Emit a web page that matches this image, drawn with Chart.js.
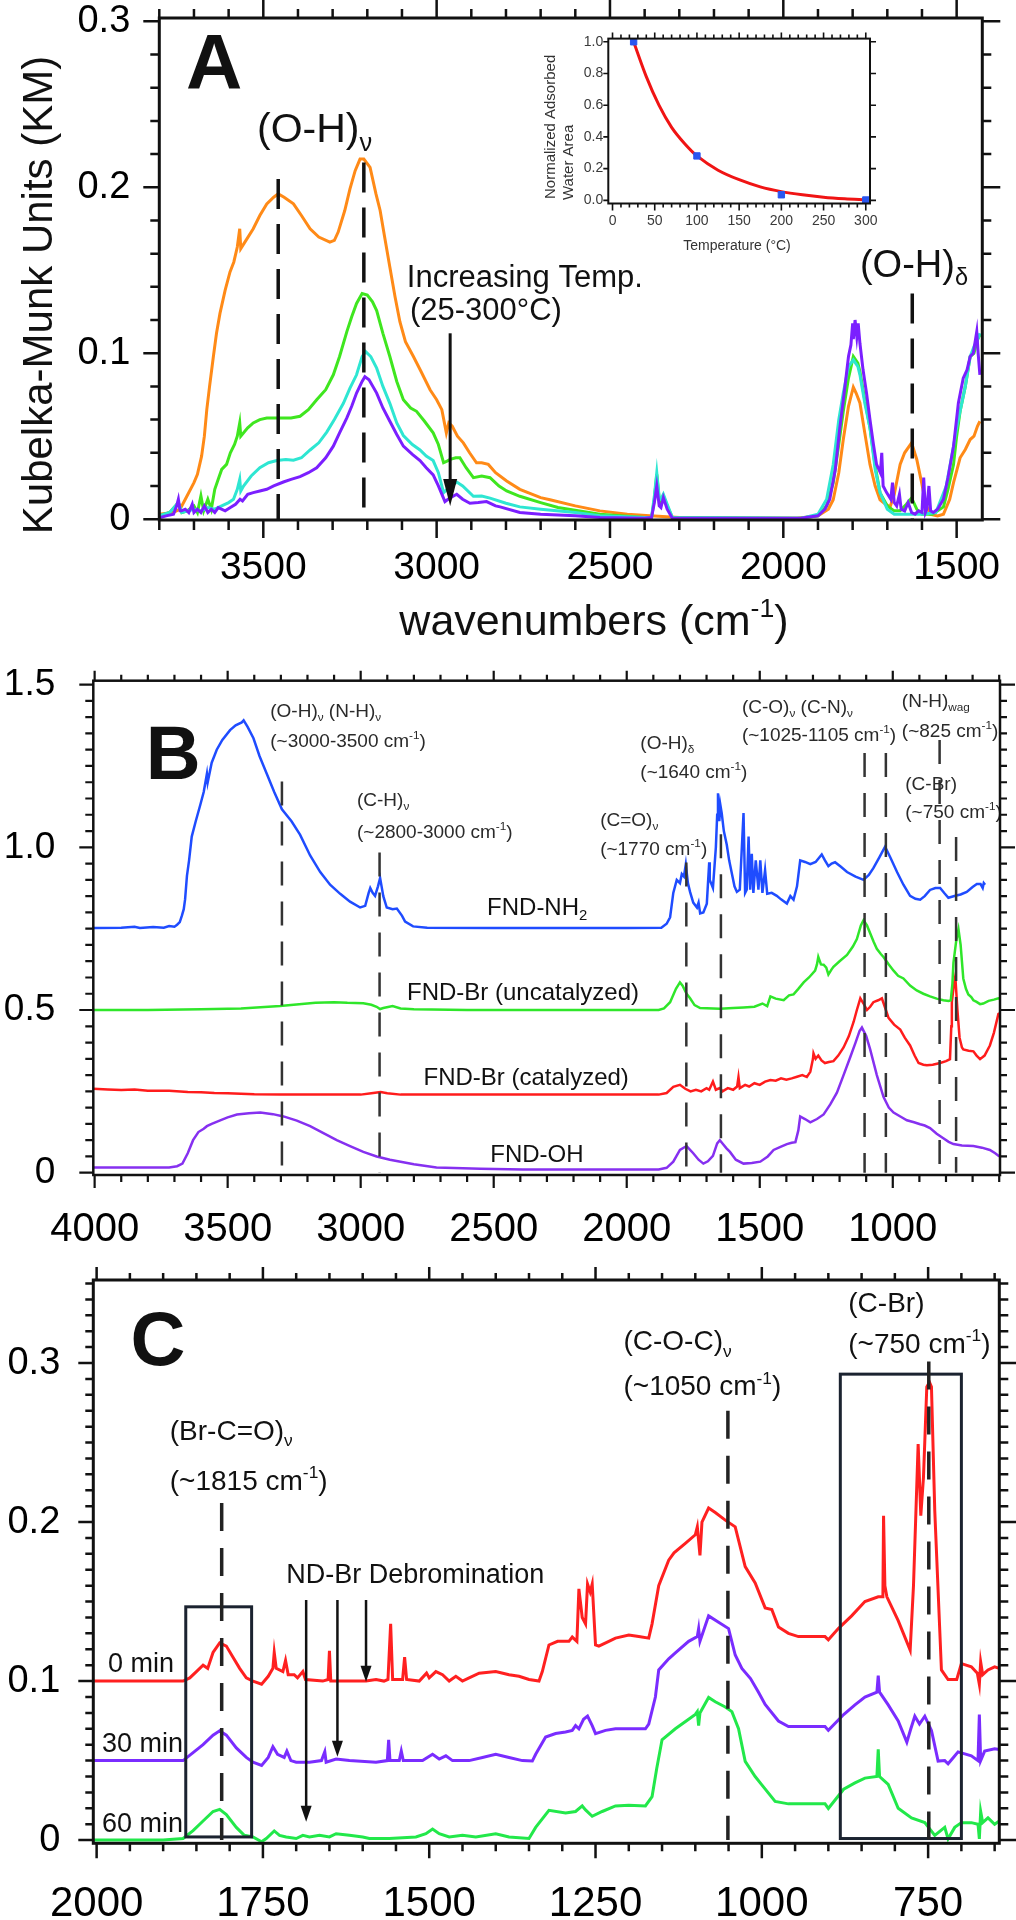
<!DOCTYPE html>
<html>
<head>
<meta charset="utf-8">
<script src="https://cdn.jsdelivr.net/npm/chart.js@4.4.1/dist/chart.umd.min.js"></script>
<style>
  html, body { margin: 0; padding: 0; background: #fff; }
  #page { position: relative; width: 1016px; height: 1920px; background: #fff; overflow: hidden; }
  canvas { position: absolute; }
</style>
</head>
<body>
<div id="page">
  <canvas id="panelA" width="1016" height="660" style="left:0;top:0"></canvas>
  <canvas id="panelB" width="1016" height="620" style="left:0;top:640px"></canvas>
  <canvas id="panelC" width="1016" height="680" style="left:0;top:1240px"></canvas>
  <canvas id="inset" width="380" height="250" style="left:520px;top:10px"></canvas>
</div>
<script>
// ---------- Panel A : DRIFTS, increasing temperature (25-300 °C) ----------
const aOrange = [[3800,0.003],[3760,0.004],[3740,0.006],[3725,0.012],[3700,0.022],[3690,0.027],[3678,0.038],[3670,0.05],[3663,0.066],[3655,0.08],[3644,0.098],[3635,0.112],[3625,0.124],[3610,0.138],[3596,0.149],[3585,0.155],[3575,0.164],[3568,0.175],[3565,0.163],[3550,0.168],[3529,0.175],[3510,0.183],[3490,0.19],[3470,0.194],[3457,0.196],[3440,0.194],[3413,0.19],[3390,0.183],[3365,0.175],[3340,0.17],[3308,0.167],[3295,0.168],[3284,0.173],[3265,0.186],[3250,0.199],[3235,0.21],[3221,0.217],[3210,0.217],[3192,0.212],[3175,0.196],[3163,0.186],[3150,0.17],[3135,0.152],[3120,0.134],[3106,0.119],[3090,0.107],[3067,0.098],[3045,0.089],[3019,0.078],[3000,0.072],[2985,0.066],[2972,0.052],[2965,0.058],[2955,0.056],[2940,0.05],[2923,0.046],[2905,0.04],[2885,0.034],[2870,0.034],[2851,0.033],[2830,0.028],[2798,0.023],[2760,0.018],[2700,0.013],[2673,0.0117],[2600,0.008],[2529,0.005],[2450,0.003],[2385,0.002],[2300,0.001],[2100,0.0005],[1960,0.0005],[1900,0.002],[1870,0.006],[1856,0.0117],[1840,0.028],[1827,0.048],[1812,0.068],[1798,0.0795],[1790,0.076],[1779,0.07],[1765,0.052],[1750,0.033],[1735,0.02],[1721,0.0117],[1705,0.009],[1692,0.0074],[1680,0.015],[1663,0.033],[1650,0.04],[1630,0.046],[1615,0.036],[1601,0.022],[1590,0.01],[1577,0.003],[1555,0.002],[1538,0.003],[1520,0.012],[1509,0.022],[1490,0.037],[1475,0.042],[1461,0.048],[1450,0.05],[1440,0.056],[1433,0.059]];
const aGreen = [[3800,0.002],[3770,0.004],[3745,0.01],[3735,0.004],[3720,0.005],[3700,0.008],[3690,0.004],[3680,0.014],[3672,0.005],[3660,0.012],[3650,0.006],[3640,0.018],[3630,0.024],[3620,0.03],[3606,0.033],[3595,0.04],[3583,0.045],[3575,0.05],[3568,0.058],[3565,0.05],[3545,0.055],[3529,0.058],[3510,0.06],[3490,0.061],[3460,0.061],[3420,0.061],[3394,0.062],[3370,0.066],[3346,0.072],[3320,0.078],[3298,0.087],[3280,0.098],[3259,0.113],[3245,0.122],[3231,0.13],[3215,0.136],[3200,0.135],[3185,0.131],[3173,0.1257],[3155,0.112],[3135,0.098],[3115,0.083],[3096,0.072],[3075,0.067],[3058,0.065],[3035,0.059],[3010,0.052],[2995,0.045],[2980,0.034],[2970,0.035],[2961,0.036],[2945,0.037],[2933,0.037],[2915,0.031],[2894,0.025],[2870,0.026],[2846,0.025],[2820,0.02],[2798,0.017],[2760,0.0138],[2700,0.01],[2650,0.007],[2529,0.003],[2400,0.001],[2380,0.001],[2372,0.012],[2365,0.027],[2358,0.012],[2353,0.01],[2346,0.014],[2335,0.008],[2320,0.001],[1950,0.0005],[1900,0.002],[1875,0.008],[1856,0.022],[1840,0.045],[1827,0.065],[1812,0.085],[1798,0.098],[1785,0.094],[1779,0.089],[1765,0.072],[1750,0.055],[1735,0.032],[1721,0.016],[1700,0.008],[1680,0.005],[1663,0.005],[1645,0.009],[1630,0.0128],[1615,0.006],[1600,0.003],[1570,0.003],[1538,0.0074],[1525,0.018],[1509,0.033],[1500,0.05],[1490,0.065],[1475,0.08],[1461,0.098],[1450,0.1],[1440,0.108],[1433,0.111]];
const aCyan = [[3800,0.002],[3770,0.004],[3745,0.01],[3735,0.004],[3700,0.006],[3680,0.005],[3660,0.007],[3640,0.006],[3620,0.008],[3600,0.01],[3586,0.012],[3575,0.018],[3568,0.024],[3565,0.017],[3557,0.02],[3535,0.026],[3510,0.031],[3485,0.034],[3461,0.0353],[3435,0.036],[3413,0.0355],[3390,0.037],[3365,0.0417],[3340,0.046],[3317,0.0525],[3295,0.06],[3269,0.0698],[3250,0.079],[3231,0.087],[3215,0.098],[3205,0.101],[3190,0.098],[3173,0.091],[3155,0.08],[3135,0.0698],[3115,0.058],[3096,0.0504],[3070,0.045],[3048,0.0417],[3030,0.038],[3010,0.0353],[2995,0.028],[2980,0.016],[2970,0.018],[2942,0.0224],[2925,0.02],[2894,0.0138],[2870,0.014],[2846,0.0127],[2800,0.0096],[2760,0.0074],[2700,0.006],[2600,0.004],[2529,0.002],[2400,0.001],[2380,0.001],[2372,0.014],[2365,0.028],[2358,0.013],[2353,0.012],[2346,0.015],[2335,0.009],[2320,0.001],[1950,0.0005],[1900,0.003],[1875,0.012],[1856,0.033],[1840,0.06],[1827,0.076],[1812,0.092],[1798,0.096],[1785,0.092],[1779,0.087],[1765,0.07],[1750,0.055],[1735,0.03],[1721,0.016],[1700,0.006],[1680,0.003],[1640,0.003],[1600,0.003],[1560,0.004],[1530,0.02],[1509,0.044],[1500,0.055],[1490,0.065],[1475,0.08],[1461,0.098],[1450,0.104],[1438,0.109],[1433,0.112]];
const aPurple = [[3800,0.0008],[3780,0.002],[3759,0.003],[3750,0.008],[3745,0.012],[3740,0.005],[3736,0.005],[3725,0.006],[3715,0.004],[3705,0.009],[3700,0.004],[3690,0.006],[3680,0.004],[3670,0.008],[3660,0.004],[3650,0.006],[3640,0.004],[3630,0.007],[3610,0.005],[3595,0.007],[3580,0.009],[3567,0.012],[3560,0.011],[3545,0.015],[3529,0.016],[3510,0.017],[3490,0.018],[3470,0.02],[3442,0.0224],[3420,0.024],[3394,0.0256],[3370,0.028],[3346,0.031],[3320,0.037],[3298,0.044],[3280,0.052],[3259,0.061],[3245,0.068],[3231,0.076],[3215,0.083],[3207,0.0858],[3195,0.084],[3173,0.076],[3155,0.067],[3135,0.059],[3115,0.051],[3096,0.044],[3070,0.039],[3048,0.0353],[3030,0.031],[3010,0.0267],[2995,0.02],[2976,0.0106],[2960,0.013],[2942,0.015],[2925,0.012],[2904,0.0096],[2880,0.01],[2856,0.0106],[2830,0.008],[2817,0.0074],[2760,0.004],[2700,0.003],[2600,0.002],[2529,0.001],[2400,0.0005],[2380,0.001],[2372,0.01],[2365,0.02],[2358,0.008],[2353,0.007],[2346,0.013],[2335,0.006],[2320,0.0005],[1950,0.0005],[1900,0.002],[1880,0.006],[1866,0.012],[1850,0.03],[1837,0.055],[1825,0.075],[1812,0.098],[1805,0.105],[1800,0.118],[1798,0.1085],[1793,0.12],[1788,0.11],[1784,0.118],[1779,0.106],[1770,0.09],[1760,0.076],[1750,0.06],[1740,0.045],[1731,0.033],[1720,0.028],[1716,0.04],[1712,0.02],[1702,0.016],[1690,0.012],[1685,0.022],[1680,0.01],[1673,0.008],[1665,0.015],[1660,0.006],[1650,0.005],[1640,0.01],[1630,0.004],[1620,0.003],[1610,0.005],[1600,0.004],[1595,0.025],[1590,0.004],[1586,0.006],[1580,0.02],[1575,0.005],[1567,0.004],[1555,0.006],[1538,0.012],[1525,0.025],[1509,0.044],[1495,0.07],[1481,0.085],[1470,0.09],[1461,0.098],[1452,0.1],[1442,0.113],[1438,0.1],[1433,0.087]];
const aXTicks = [3500, 3000, 2500, 2000, 1500];
const aYTicks = [0, 0.1, 0.2, 0.3];

// inset: normalized adsorbed water area vs temperature
const insetTemp = [25, 100, 200, 300];
const insetArea = [1.0, 0.28, 0.035, 0.002];
const insetFitT = [25, 40, 55, 70, 85, 100, 125, 150, 175, 200, 225, 250, 275, 300];
const insetFitY = [1.0, 0.78, 0.6, 0.46, 0.36, 0.28, 0.19, 0.13, 0.085, 0.055, 0.035, 0.02, 0.01, 0.003];
const insetXTicks = [0, 50, 100, 150, 200, 250, 300];
const insetYTicks = [0, 0.2, 0.4, 0.6, 0.8, 1.0];

// ---------- Panel B : functionalised nanodiamond spectra ----------
const bNH2 = [[4005,0.752],[3900,0.753],[3850,0.756],[3830,0.752],[3780,0.755],[3740,0.753],[3720,0.758],[3700,0.756],[3690,0.762],[3680,0.77],[3672,0.79],[3665,0.81],[3660,0.84],[3653,0.912],[3645,0.96],[3635,1.033],[3620,1.08],[3603,1.13],[3590,1.17],[3578,1.226],[3575,1.2],[3560,1.26],[3541,1.3],[3520,1.33],[3491,1.36],[3470,1.375],[3447,1.384],[3440,1.39],[3425,1.37],[3403,1.335],[3380,1.28],[3353,1.226],[3325,1.17],[3296,1.117],[3260,1.08],[3228,1.039],[3190,0.975],[3152,0.924],[3115,0.885],[3077,0.857],[3040,0.833],[3002,0.815],[2983,0.82],[2970,0.86],[2964,0.875],[2955,0.86],[2946,0.851],[2935,0.88],[2927,0.906],[2915,0.85],[2902,0.815],[2880,0.81],[2864,0.812],[2845,0.79],[2833,0.772],[2803,0.757],[2750,0.753],[2500,0.752],[2000,0.752],[1870,0.753],[1850,0.765],[1837,0.785],[1825,0.86],[1812,0.9],[1800,0.89],[1793,0.918],[1785,0.91],[1778,0.948],[1770,0.89],[1762,0.863],[1750,0.83],[1736,0.815],[1730,0.83],[1724,0.797],[1712,0.8],[1699,0.827],[1690,0.954],[1688,0.9],[1676,0.875],[1665,1.0],[1660,1.1],[1657,1.166],[1652,1.08],[1648,1.13],[1643,1.105],[1635,1.05],[1624,1.008],[1615,0.96],[1606,0.924],[1595,0.88],[1586,0.863],[1575,0.87],[1561,1.105],[1555,0.86],[1549,0.87],[1542,1.033],[1536,0.87],[1530,0.98],[1524,0.86],[1515,0.96],[1505,0.87],[1498,0.96],[1490,0.86],[1480,0.93],[1472,0.857],[1455,0.86],[1436,0.851],[1420,0.84],[1398,0.827],[1385,0.85],[1373,0.839],[1360,0.88],[1348,0.96],[1330,0.955],[1310,0.948],[1290,0.955],[1267,0.978],[1255,0.96],[1242,0.942],[1230,0.95],[1217,0.954],[1195,0.94],[1172,0.924],[1140,0.91],[1110,0.9],[1090,0.915],[1073,0.936],[1050,0.97],[1029,1.002],[1010,0.97],[984,0.924],[960,0.885],[935,0.851],[915,0.842],[897,0.839],[880,0.85],[860,0.869],[840,0.875],[822,0.875],[805,0.858],[791,0.845],[778,0.848],[765,0.851],[745,0.855],[722,0.863],[700,0.878],[684,0.887],[670,0.887],[662,0.875],[658,0.89],[653,0.885]];
const bBrUncat = [[4005,0.5],[3800,0.5],[3600,0.502],[3450,0.505],[3303,0.512],[3170,0.522],[3100,0.524],[3050,0.522],[2990,0.521],[2960,0.516],[2940,0.51],[2927,0.503],[2915,0.506],[2880,0.512],[2850,0.505],[2800,0.502],[2600,0.5],[1880,0.5],[1860,0.505],[1837,0.524],[1815,0.565],[1800,0.585],[1790,0.575],[1775,0.55],[1762,0.536],[1745,0.515],[1724,0.506],[1650,0.504],[1600,0.506],[1561,0.508],[1520,0.51],[1490,0.52],[1472,0.512],[1460,0.542],[1440,0.535],[1410,0.53],[1390,0.545],[1373,0.548],[1355,0.565],[1335,0.585],[1315,0.6],[1292,0.621],[1285,0.64],[1280,0.663],[1270,0.64],[1260,0.639],[1250,0.63],[1242,0.609],[1230,0.625],[1223,0.633],[1200,0.65],[1172,0.669],[1150,0.695],[1135,0.718],[1120,0.76],[1110,0.776],[1097,0.76],[1085,0.736],[1072,0.71],[1060,0.688],[1045,0.672],[1035,0.663],[1015,0.64],[997,0.621],[980,0.605],[960,0.597],[935,0.575],[910,0.56],[885,0.55],[860,0.542],[835,0.535],[810,0.53],[790,0.528],[782,0.53],[776,0.58],[772,0.645],[762,0.71],[753,0.748],[745,0.7],[735,0.597],[725,0.565],[716,0.548],[705,0.54],[697,0.53],[685,0.525],[672,0.518],[660,0.52],[640,0.528],[620,0.532],[603,0.536],[598,0.535]];
const bBrCat = [[4005,0.258],[3950,0.256],[3900,0.254],[3850,0.256],[3800,0.252],[3720,0.252],[3650,0.248],[3600,0.247],[3550,0.245],[3500,0.244],[3450,0.243],[3400,0.241],[3300,0.24],[3000,0.24],[2960,0.244],[2925,0.248],[2900,0.244],[2850,0.24],[2500,0.24],[1880,0.24],[1850,0.245],[1825,0.264],[1800,0.27],[1780,0.258],[1760,0.25],[1740,0.255],[1720,0.25],[1700,0.26],[1690,0.255],[1676,0.28],[1665,0.255],[1650,0.26],[1640,0.25],[1620,0.26],[1600,0.255],[1585,0.265],[1580,0.294],[1575,0.26],[1555,0.27],[1540,0.265],[1520,0.275],[1500,0.27],[1480,0.28],[1460,0.285],[1440,0.283],[1420,0.29],[1400,0.286],[1380,0.29],[1360,0.295],[1340,0.3],[1323,0.294],[1310,0.31],[1300,0.35],[1298,0.367],[1290,0.35],[1280,0.36],[1268,0.345],[1255,0.337],[1240,0.34],[1223,0.343],[1205,0.36],[1185,0.385],[1165,0.42],[1147,0.464],[1135,0.5],[1122,0.536],[1110,0.52],[1097,0.5],[1085,0.51],[1073,0.524],[1055,0.53],[1041,0.536],[1030,0.51],[1016,0.476],[995,0.455],[972,0.44],[955,0.415],[935,0.391],[918,0.36],[903,0.337],[885,0.332],[872,0.33],[850,0.332],[822,0.337],[800,0.343],[785,0.349],[780,0.45],[778,0.524],[770,0.58],[765,0.603],[757,0.5],[749,0.415],[740,0.385],[735,0.379],[715,0.375],[697,0.373],[685,0.36],[672,0.349],[655,0.36],[635,0.391],[620,0.43],[603,0.488],[598,0.49]];
const bOH = [[4005,0.016],[3800,0.016],[3720,0.016],[3690,0.02],[3670,0.028],[3650,0.06],[3630,0.1],[3610,0.125],[3590,0.135],[3578,0.143],[3560,0.15],[3528,0.161],[3500,0.17],[3465,0.179],[3420,0.183],[3377,0.185],[3330,0.18],[3290,0.173],[3240,0.16],[3190,0.143],[3140,0.122],[3090,0.1],[3040,0.082],[2990,0.064],[2940,0.05],[2890,0.04],[2800,0.026],[2715,0.016],[2550,0.012],[2390,0.01],[1880,0.01],[1850,0.015],[1825,0.034],[1800,0.07],[1775,0.082],[1750,0.06],[1730,0.04],[1712,0.028],[1695,0.035],[1676,0.052],[1660,0.09],[1650,0.1],[1640,0.09],[1625,0.075],[1612,0.064],[1590,0.04],[1561,0.028],[1530,0.03],[1498,0.034],[1470,0.05],[1448,0.07],[1420,0.08],[1398,0.088],[1380,0.092],[1366,0.094],[1355,0.13],[1348,0.173],[1330,0.165],[1310,0.155],[1285,0.165],[1260,0.179],[1235,0.21],[1210,0.246],[1185,0.3],[1160,0.355],[1140,0.4],[1125,0.435],[1116,0.446],[1100,0.42],[1085,0.379],[1060,0.3],[1035,0.233],[1015,0.2],[997,0.185],[970,0.172],[947,0.161],[920,0.155],[897,0.149],[880,0.145],[860,0.137],[835,0.12],[810,0.106],[790,0.095],[772,0.088],[740,0.084],[697,0.082],[665,0.077],[635,0.07],[615,0.06],[603,0.052],[598,0.05]];
const bXTicks = [4000, 3500, 3000, 2500, 2000, 1500, 1000];
const bYTicks = [0, 0.5, 1.0, 1.5];

// ---------- Panel C : ND-Br debromination over time ----------
const c0min = [[2005,0.1],[1900,0.1],[1870,0.1],[1860,0.102],[1850,0.106],[1840,0.11],[1833,0.108],[1825,0.118],[1815,0.124],[1805,0.122],[1795,0.115],[1785,0.108],[1775,0.102],[1765,0.1],[1752,0.098],[1742,0.103],[1735,0.108],[1733,0.118],[1730,0.108],[1720,0.106],[1716,0.113],[1712,0.104],[1703,0.104],[1698,0.102],[1690,0.106],[1686,0.101],[1660,0.1],[1652,0.101],[1650,0.119],[1648,0.1],[1620,0.1],[1595,0.1],[1580,0.101],[1568,0.1],[1562,0.101],[1558,0.136],[1555,0.101],[1540,0.101],[1537,0.115],[1534,0.101],[1515,0.1],[1504,0.105],[1500,0.102],[1490,0.106],[1480,0.104],[1470,0.1],[1460,0.103],[1450,0.1],[1440,0.102],[1425,0.105],[1400,0.106],[1380,0.104],[1365,0.103],[1350,0.101],[1335,0.1],[1330,0.106],[1320,0.1227],[1307,0.125],[1290,0.125],[1285,0.1277],[1278,0.125],[1275,0.158],[1270,0.14],[1265,0.136],[1262,0.161],[1258,0.156],[1255,0.161],[1250,0.1227],[1245,0.122],[1230,0.125],[1220,0.127],[1200,0.129],[1185,0.128],[1170,0.127],[1165,0.136],[1155,0.16],[1140,0.176],[1132,0.1806],[1115,0.1866],[1100,0.192],[1097,0.197],[1093,0.179],[1090,0.2],[1080,0.2088],[1070,0.206],[1055,0.2012],[1040,0.197],[1025,0.172],[1010,0.1617],[995,0.146],[985,0.145],[975,0.134],[960,0.13],[945,0.128],[925,0.128],[905,0.128],[900,0.126],[885,0.133],[865,0.141],[845,0.15],[825,0.153],[818,0.153],[817,0.204],[815,0.16],[812,0.153],[795,0.138],[777,0.1195],[772,0.16],[765,0.249],[761,0.204],[757,0.228],[752,0.285],[748,0.288],[745,0.285],[740,0.207],[730,0.107],[720,0.101],[707,0.101],[700,0.111],[685,0.109],[676,0.105],[673,0.098],[671,0.112],[668,0.104],[660,0.107],[650,0.109],[643,0.108]];
const c30min = [[2005,0.05],[1900,0.05],[1870,0.05],[1855,0.055],[1840,0.06],[1825,0.066],[1815,0.0688],[1805,0.066],[1790,0.058],[1775,0.052],[1765,0.049],[1752,0.047],[1742,0.052],[1735,0.0587],[1728,0.054],[1718,0.052],[1714,0.056],[1708,0.05],[1700,0.049],[1680,0.049],[1662,0.05],[1657,0.0556],[1655,0.049],[1640,0.051],[1620,0.05],[1580,0.049],[1563,0.05],[1561,0.063],[1559,0.05],[1545,0.05],[1542,0.056],[1539,0.05],[1510,0.05],[1495,0.054],[1485,0.051],[1475,0.053],[1465,0.05],[1440,0.05],[1420,0.052],[1400,0.054],[1380,0.052],[1360,0.05],[1345,0.0497],[1340,0.054],[1325,0.0648],[1310,0.067],[1295,0.068],[1285,0.069],[1280,0.072],[1275,0.07],[1268,0.076],[1262,0.078],[1255,0.072],[1250,0.067],[1235,0.069],[1220,0.07],[1200,0.07],[1175,0.07],[1170,0.073],[1160,0.09],[1155,0.107],[1140,0.114],[1130,0.1177],[1110,0.125],[1097,0.128],[1095,0.133],[1093,0.125],[1080,0.141],[1065,0.137],[1050,0.133],[1040,0.1164],[1030,0.108],[1017,0.1016],[1005,0.093],[995,0.0853],[975,0.0749],[960,0.0714],[930,0.0714],[905,0.0714],[900,0.069],[877,0.079],[860,0.085],[845,0.09],[827,0.093],[825,0.1035],[823,0.093],[810,0.085],[795,0.075],[782,0.0616],[776,0.07],[770,0.0779],[763,0.073],[755,0.0779],[745,0.069],[735,0.0497],[725,0.05],[720,0.048],[712,0.052],[705,0.0555],[685,0.053],[675,0.05],[673,0.079],[671,0.05],[665,0.056],[650,0.0575],[643,0.057]];
const c60min = [[2005,0],[1900,0],[1870,0.001],[1855,0.006],[1840,0.012],[1825,0.018],[1815,0.0193],[1805,0.016],[1790,0.008],[1778,0.003],[1765,0.002],[1752,-0.001],[1745,0.001],[1733,0.0058],[1725,0.003],[1715,0.002],[1700,0.001],[1690,0.003],[1680,0.002],[1665,0.003],[1650,0.002],[1640,0.004],[1620,0.003],[1600,0.002],[1590,0.001],[1560,0.001],[1520,0.002],[1505,0.004],[1495,0.007],[1485,0.004],[1470,0.002],[1450,0.003],[1430,0.002],[1400,0.004],[1380,0.002],[1350,0.001],[1340,0.008],[1320,0.0187],[1295,0.017],[1280,0.018],[1270,0.0215],[1265,0.019],[1255,0.015],[1240,0.018],[1220,0.0215],[1200,0.022],[1175,0.0215],[1165,0.0274],[1158,0.045],[1150,0.0631],[1130,0.07],[1110,0.076],[1100,0.079],[1097,0.0808],[1095,0.072],[1093,0.08],[1080,0.0897],[1070,0.087],[1055,0.0837],[1045,0.0808],[1035,0.07],[1025,0.0495],[1010,0.04],[1000,0.0347],[980,0.0243],[960,0.0228],[930,0.0228],[905,0.0228],[900,0.0199],[877,0.032],[860,0.036],[845,0.039],[827,0.04],[825,0.0571],[823,0.04],[810,0.035],[795,0.02],[775,0.014],[755,0.0111],[740,0.003],[725,0.008],[720,0.0008],[710,0.008],[700,0.011],[685,0.011],[675,0.01],[673,0.0008],[671,0.018],[668,0.011],[660,0.014],[650,0.01],[643,0.012]];
const cXTicks = [2000, 1750, 1500, 1250, 1000, 750];
const cYTicks = [0, 0.1, 0.2, 0.3];

// ---------------------------------------------------------------------------
const FONT = '"Liberation Sans", Arial, Helvetica, sans-serif';
Chart.defaults.font.family = FONT;
Chart.defaults.color = '#000';

const toXY = pts => pts.map(p => ({ x: p[0], y: p[1] }));
const steps = (from, to, step) => {
  const out = [];
  const n = Math.round(Math.abs((to - from) / step));
  for (let i = 0; i <= n; i++) out.push(+(from + Math.sign(to - from) * i * step).toFixed(4));
  return out;
};
const fmt = v => (v === 0 ? '0' : Number(v).toFixed(1));

// text with sub / superscript runs, y = baseline
function drawRich(ctx, parts, x, y, size, align, color, bold) {
  const runs = parts.map(p => {
    const txt = typeof p === 'string' ? p : p[0];
    const kind = typeof p === 'string' ? '' : p[1];
    const fs = kind ? size * 0.62 : size;
    ctx.font = (bold ? 'bold ' : '') + fs + 'px ' + FONT;
    return { txt, kind, fs, w: ctx.measureText(txt).width };
  });
  const total = runs.reduce((s, r) => s + r.w, 0);
  let cx = align === 'center' ? x - total / 2 : align === 'right' ? x - total : x;
  ctx.fillStyle = color;
  ctx.textAlign = 'left';
  ctx.textBaseline = 'alphabetic';
  runs.forEach(r => {
    ctx.font = (bold ? 'bold ' : '') + r.fs + 'px ' + FONT;
    const dy = r.kind === 'sub' ? size * 0.22 : r.kind === 'sup' ? -size * 0.42 : 0;
    ctx.fillText(r.txt, cx, y + dy);
    cx += r.w;
  });
}

// frame, minor/major tick marks on all four sides, dashed guides, arrows, boxes, labels
const deco = {
  id: 'deco',
  afterDatasetsDraw(chart, args, o) {
    const { ctx, chartArea: a } = chart;
    const sx = chart.scales.x, sy = chart.scales.y;
    const px = v => sx.getPixelForValue(v), py = v => sy.getPixelForValue(v);
    ctx.save();
    (o.notes || []).forEach(n => {
      const col = n.color || '#111';
      if (n.type === 'dash') {
        ctx.strokeStyle = col; ctx.lineWidth = n.width;
        ctx.setLineDash(n.dash);
        ctx.beginPath(); ctx.moveTo(px(n.x), py(n.y1)); ctx.lineTo(px(n.x), py(n.y2)); ctx.stroke();
        ctx.setLineDash([]);
      } else if (n.type === 'arrow') {
        const x = px(n.x), y1 = py(n.y1), y2 = py(n.y2);
        ctx.strokeStyle = col; ctx.fillStyle = col; ctx.lineWidth = n.width;
        ctx.beginPath(); ctx.moveTo(x, y1); ctx.lineTo(x, y2 - n.head + 2); ctx.stroke();
        ctx.beginPath(); ctx.moveTo(x, y2); ctx.lineTo(x - n.hw / 2, y2 - n.head); ctx.lineTo(x + n.hw / 2, y2 - n.head); ctx.closePath(); ctx.fill();
      } else if (n.type === 'box') {
        ctx.strokeStyle = col; ctx.lineWidth = n.width;
        const x1 = px(n.x1), x2 = px(n.x2), y1 = py(n.y1), y2 = py(n.y2);
        ctx.strokeRect(Math.min(x1, x2), Math.min(y1, y2), Math.abs(x2 - x1), Math.abs(y2 - y1));
      } else if (n.type === 'text') {
        drawRich(ctx, n.parts, px(n.x), py(n.y), n.size, n.align || 'left', col, n.bold);
      } else if (n.type === 'label') {
        ctx.save();
        ctx.translate(n.px, n.py);
        if (n.rotate) ctx.rotate(n.rotate);
        drawRich(ctx, n.parts, 0, 0, n.size, n.align || 'center', col, n.bold);
        ctx.restore();
      }
    });
    // frame
    ctx.strokeStyle = '#111';
    ctx.lineWidth = o.frame;
    ctx.strokeRect(a.left, a.top, a.right - a.left, a.bottom - a.top);
    // tick marks
    const t = o.ticks;
    ctx.lineWidth = t.width;
    ctx.beginPath();
    const xMarks = (vals, k) => vals.forEach(v => {
      const p = px(v);
      if (p < a.left - 1 || p > a.right + 1) return;
      ctx.moveTo(p, a.bottom); ctx.lineTo(p, a.bottom + t.bottom[k]);
      ctx.moveTo(p, a.top); ctx.lineTo(p, a.top - t.top[k]);
    });
    const yMarks = (vals, k) => vals.forEach(v => {
      const p = py(v);
      if (p < a.top - 1 || p > a.bottom + 1) return;
      ctx.moveTo(a.left, p); ctx.lineTo(a.left - t.left[k], p);
      ctx.moveTo(a.right, p); ctx.lineTo(a.right + t.right[k], p);
    });
    xMarks(t.xMinor, 1); xMarks(t.xMajor, 0);
    yMarks(t.yMinor, 1); yMarks(t.yMajor, 0);
    ctx.stroke();
    ctx.restore();
  }
};

function buildChart(id, c) {
  return new Chart(document.getElementById(id), {
    type: 'scatter',
    data: {
      datasets: c.series.map(s => ({
        data: toXY(s.data), borderColor: s.color, backgroundColor: s.color,
        borderWidth: c.lineWidth, showLine: true, pointRadius: 0, tension: 0
      }))
    },
    options: {
      responsive: false, animation: false, devicePixelRatio: 1,
      layout: { padding: c.padding },
      plugins: { legend: { display: false }, tooltip: { enabled: false }, deco: c.deco },
      scales: {
        x: {
          type: 'linear', reverse: c.xReverse !== false, min: c.xMin, max: c.xMax,
          afterBuildTicks: ax => { ax.ticks = c.xTicks.map(v => ({ value: v })); },
          afterFit: ax => { ax.height = c.xAxisHeight; ax.paddingLeft = 0; ax.paddingRight = 0; },
          grid: { display: false, drawTicks: false }, border: { display: false },
          ticks: { autoSkip: false, maxRotation: 0, padding: c.xPad, color: c.tickColor || '#000',
                   font: { size: c.xFont }, callback: v => String(v) }
        },
        y: {
          type: 'linear', min: c.yMin, max: c.yMax,
          afterBuildTicks: ax => { ax.ticks = c.yTicks.map(v => ({ value: v })); },
          afterFit: ax => { ax.width = c.yAxisWidth; ax.paddingTop = 0; ax.paddingBottom = 0; },
          grid: { display: false, drawTicks: false }, border: { display: false },
          ticks: { autoSkip: false, padding: c.yPad, color: c.tickColor || '#000',
                   font: { size: c.yFont }, callback: c.yFmt || fmt }
        }
      }
    },
    plugins: [deco]
  });
}

// ---------- Panel A ----------
const dashA = { type: 'dash', width: 3.5, dash: [30, 15], color: '#111' };
buildChart('panelA', {
  series: [
    { data: aPurple, color: '#7b1fff' },
    { data: aCyan, color: '#2ee6d2' },
    { data: aGreen, color: '#3fe61f' },
    { data: aOrange, color: '#ff8a17' }
  ],
  lineWidth: 3,
  padding: { left: 0, top: 18, right: 1016 - 982.3, bottom: 0 },
  xMin: 1426, xMax: 3800, xTicks: aXTicks, xAxisHeight: 140, xPad: 25, xFont: 39,
  yMin: -0.0005, yMax: 0.302, yTicks: aYTicks, yAxisWidth: 159.3, yPad: 29, yFont: 38,
  deco: {
    frame: 3,
    ticks: { width: 2.5, xMajor: aXTicks, xMinor: steps(3800, 1500, 100), yMajor: aYTicks, yMinor: steps(0, 0.3, 0.02),
             left: [16, 9], right: [18, 9], top: [18, 9], bottom: [18, 10] },
    notes: [
      { ...dashA, x: 3457, y1: 0.205, y2: 0 },
      { ...dashA, x: 3210, y1: 0.215, y2: 0 },
      { ...dashA, x: 1628, y1: 0.136, y2: 0 },
      { type: 'arrow', x: 2961, y1: 0.112, y2: 0.008, width: 3, head: 27, hw: 14 },
      { type: 'text', x: 3642, y: 0.259, parts: ['A'], size: 78, bold: true, align: 'center' },
      { type: 'text', x: 3518, y: 0.227, parts: ['(O-H)', ['ν', 'sub']], size: 41 },
      { type: 'text', x: 3086, y: 0.1397, parts: ['Increasing Temp.'], size: 31 },
      { type: 'text', x: 3077, y: 0.1203, parts: ['(25-300°C)'], size: 31 },
      { type: 'text', x: 1779, y: 0.146, parts: ['(O-H)', ['δ', 'sub']], size: 38 },
      { type: 'label', px: 52, py: 295, rotate: -Math.PI / 2, parts: ['Kubelka-Munk Units (KM)'], size: 42 },
      { type: 'label', px: 594, py: 635, parts: ['wavenumbers (cm', ['-1', 'sup'], ')'], size: 43 }
    ]
  }
});

// ---------- Inset ----------
new Chart(document.getElementById('inset'), {
  type: 'scatter',
  data: {
    datasets: [
      { data: insetTemp.map((t, i) => ({ x: t, y: insetArea[i] })), pointStyle: 'rect', pointRadius: 4.5,
        backgroundColor: '#2a56f0', borderColor: '#2a56f0', showLine: false },
      { data: insetFitT.map((t, i) => ({ x: t, y: insetFitY[i] })), borderColor: '#f01414', borderWidth: 3,
        showLine: true, pointRadius: 0, tension: 0.3 }
    ]
  },
  options: {
    responsive: false, animation: false, devicePixelRatio: 1,
    layout: { padding: { left: 0, top: 28.6, right: 30, bottom: 0 } },
    plugins: {
      legend: { display: false }, tooltip: { enabled: false },
      deco: {
        frame: 2,
        ticks: { width: 1.6, xMajor: insetXTicks, xMinor: steps(0, 300, 10), yMajor: insetYTicks, yMinor: [],
                 left: [5, 3], right: [6, 3], top: [6, 4], bottom: [7, 4] },
        notes: [
          { type: 'label', px: 217, py: 239.5, parts: ['Temperature (°C)'], size: 14, color: '#333' },
          { type: 'label', px: 35, py: 189, rotate: -Math.PI / 2, parts: ['Normalized Adsorbed'], size: 15, align: 'left', color: '#333' },
          { type: 'label', px: 53, py: 190, rotate: -Math.PI / 2, parts: ['Water Area'], size: 15, align: 'left', color: '#333' }
        ]
      }
    },
    scales: {
      x: {
        type: 'linear', min: -5, max: 305,
        afterBuildTicks: ax => { ax.ticks = insetXTicks.map(v => ({ value: v })); },
        afterFit: ax => { ax.height = 56.5; ax.paddingLeft = 0; ax.paddingRight = 0; },
        grid: { display: false, drawTicks: false }, border: { display: false },
        ticks: { autoSkip: false, maxRotation: 0, padding: 9, color: '#3a3a3a', font: { size: 14 } }
      },
      y: {
        type: 'linear', min: -0.02, max: 1.02,
        afterBuildTicks: ax => { ax.ticks = insetYTicks.map(v => ({ value: v })); },
        afterFit: ax => { ax.width = 88.3; ax.paddingTop = 0; ax.paddingBottom = 0; },
        grid: { display: false, drawTicks: false }, border: { display: false },
        ticks: { autoSkip: false, padding: 5, color: '#3a3a3a', font: { size: 14 }, callback: v => Number(v).toFixed(1) }
      }
    }
  },
  plugins: [deco]
});

// ---------- Panel B ----------
const dashB = { type: 'dash', width: 2.5, dash: [24, 16], color: '#333' };
const noteB = (x, y, parts) => ({ type: 'text', x, y, parts, size: 19, color: '#2a2a2a' });
buildChart('panelB', {
  series: [
    { data: bNH2, color: '#1f4cff' },
    { data: bBrUncat, color: '#2fe62a' },
    { data: bBrCat, color: '#ff1c1c' },
    { data: bOH, color: '#8630f0' }
  ],
  lineWidth: 2.5,
  padding: { left: 0, top: 40.7, right: 16, bottom: 0 },
  xMin: 597, xMax: 4005, xTicks: bXTicks, xAxisHeight: 85, xPad: 31, xFont: 40,
  yMin: -0.007, yMax: 1.512, yTicks: bYTicks, yAxisWidth: 93.3, yPad: 38, yFont: 37,
  deco: {
    frame: 2.5,
    ticks: { width: 2.2, xMajor: bXTicks, xMinor: steps(4000, 600, 100), yMajor: bYTicks, yMinor: steps(0, 1.5, 0.05),
             left: [14, 8], right: [15, 7], top: [10, 6], bottom: [13, 7] },
    notes: [
      { ...dashB, x: 3296, y1: 1.202, y2: 0 },
      { ...dashB, x: 2929, y1: 0.984, y2: 0 },
      { ...dashB, x: 1776, y1: 0.953, y2: 0 },
      { ...dashB, x: 1646, y1: 1.04, y2: 0 },
      { ...dashB, x: 1106, y1: 1.29, y2: 0 },
      { ...dashB, x: 1026, y1: 1.29, y2: 0 },
      { ...dashB, x: 824, y1: 1.33, y2: 0 },
      { ...dashB, x: 762, y1: 1.032, y2: 0 },
      { type: 'text', x: 3705, y: 1.21, parts: ['B'], size: 76, bold: true, align: 'center' },
      noteB(3340, 1.4, ['(O-H)', ['ν', 'sub'], ' (N-H)', ['ν', 'sub']]),
      noteB(3340, 1.308, ['(~3000-3500 cm', ['-1', 'sup'], ')']),
      noteB(3014, 1.127, ['(C-H)', ['ν', 'sub']]),
      noteB(3014, 1.0295, ['(~2800-3000 cm', ['-1', 'sup'], ')']),
      noteB(2100, 1.066, ['(C=O)', ['ν', 'sub']]),
      noteB(2100, 0.975, ['(~1770 cm', ['-1', 'sup'], ')']),
      noteB(1949, 1.303, ['(O-H)', ['δ', 'sub']]),
      noteB(1949, 1.212, ['(~1640 cm', ['-1', 'sup'], ')']),
      noteB(1567, 1.413, ['(C-O)', ['ν', 'sub'], ' (C-N)', ['ν', 'sub']]),
      noteB(1567, 1.327, ['(~1025-1105 cm', ['-1', 'sup'], ')']),
      noteB(966, 1.431, ['(N-H)', ['wag', 'sub']]),
      noteB(966, 1.339, ['(~825 cm', ['-1', 'sup'], ')']),
      noteB(953, 1.176, ['(C-Br)']),
      noteB(953, 1.09, ['(~750 cm', ['-1', 'sup'], ')']),
      { type: 'text', x: 2525, y: 0.793, parts: ['FND-NH', ['2', 'sub']], size: 24 },
      { type: 'text', x: 2826, y: 0.532, parts: ['FND-Br (uncatalyzed)'], size: 24 },
      { type: 'text', x: 2764, y: 0.271, parts: ['FND-Br (catalyzed)'], size: 24 },
      { type: 'text', x: 2513, y: 0.034, parts: ['FND-OH'], size: 24 }
    ]
  }
});

// ---------- Panel C ----------
const dashC = { type: 'dash', width: 3.5, dash: [28, 17], color: '#222' };
const arrowC = { type: 'arrow', width: 2.5, head: 16, hw: 11, color: '#111' };
const noteC = (x, y, parts, size) => ({ type: 'text', x, y, parts, size: size || 28, color: '#111' });
buildChart('panelC', {
  series: [
    { data: c0min, color: '#ff2020' },
    { data: c30min, color: '#7a2cff' },
    { data: c60min, color: '#22e84a' }
  ],
  lineWidth: 3,
  padding: { left: 0, top: 40, right: 16.7, bottom: 0 },
  xMin: 643, xMax: 2005, xTicks: cXTicks, xAxisHeight: 76.7, xPad: 36, xFont: 42,
  yMin: -0.002, yMax: 0.3522, yTicks: cYTicks, yAxisWidth: 93.3, yPad: 33, yFont: 38,
  deco: {
    frame: 3,
    ticks: { width: 2.5, xMajor: cXTicks, xMinor: steps(2000, 650, 50), yMajor: cYTicks, yMinor: steps(0, 0.35, 0.01),
             left: [15, 8], right: [18, 9], top: [13, 7], bottom: [15, 8] },
    notes: [
      { type: 'box', x1: 1866, x2: 1767, y1: 0.002, y2: 0.1467, width: 3, color: '#1b2330' },
      { type: 'box', x1: 882, x2: 700, y1: 0.001, y2: 0.293, width: 3, color: '#1b2330' },
      { ...dashC, x: 1812, y1: 0.212, y2: 0 },
      { ...dashC, x: 1051, y1: 0.27, y2: 0 },
      { ...dashC, x: 749, y1: 0.301, y2: 0 },
      { ...arrowC, x: 1685, y1: 0.151, y2: 0.0115 },
      { ...arrowC, x: 1638, y1: 0.151, y2: 0.0524 },
      { ...arrowC, x: 1595, y1: 0.151, y2: 0.0996 },
      { type: 'text', x: 1908, y: 0.2987, parts: ['C'], size: 76, bold: true, align: 'center' },
      noteC(1890, 0.2516, ['(Br-C=O)', ['ν', 'sub']]),
      noteC(1890, 0.2201, ['(~1815 cm', ['-1', 'sup'], ')']),
      noteC(1715, 0.1616, ['ND-Br Debromination'], 27),
      noteC(1983, 0.106, ['0 min'], 27),
      noteC(1992, 0.0557, ['30 min'], 27),
      noteC(1992, 0.0054, ['60 min'], 27),
      noteC(1208, 0.3079, ['(C-O-C)', ['ν', 'sub']]),
      noteC(1208, 0.2797, ['(~1050 cm', ['-1', 'sup'], ')']),
      noteC(870, 0.3322, ['(C-Br)']),
      noteC(870, 0.3064, ['(~750 cm', ['-1', 'sup'], ')'])
    ]
  }
});
</script>
</body>
</html>
